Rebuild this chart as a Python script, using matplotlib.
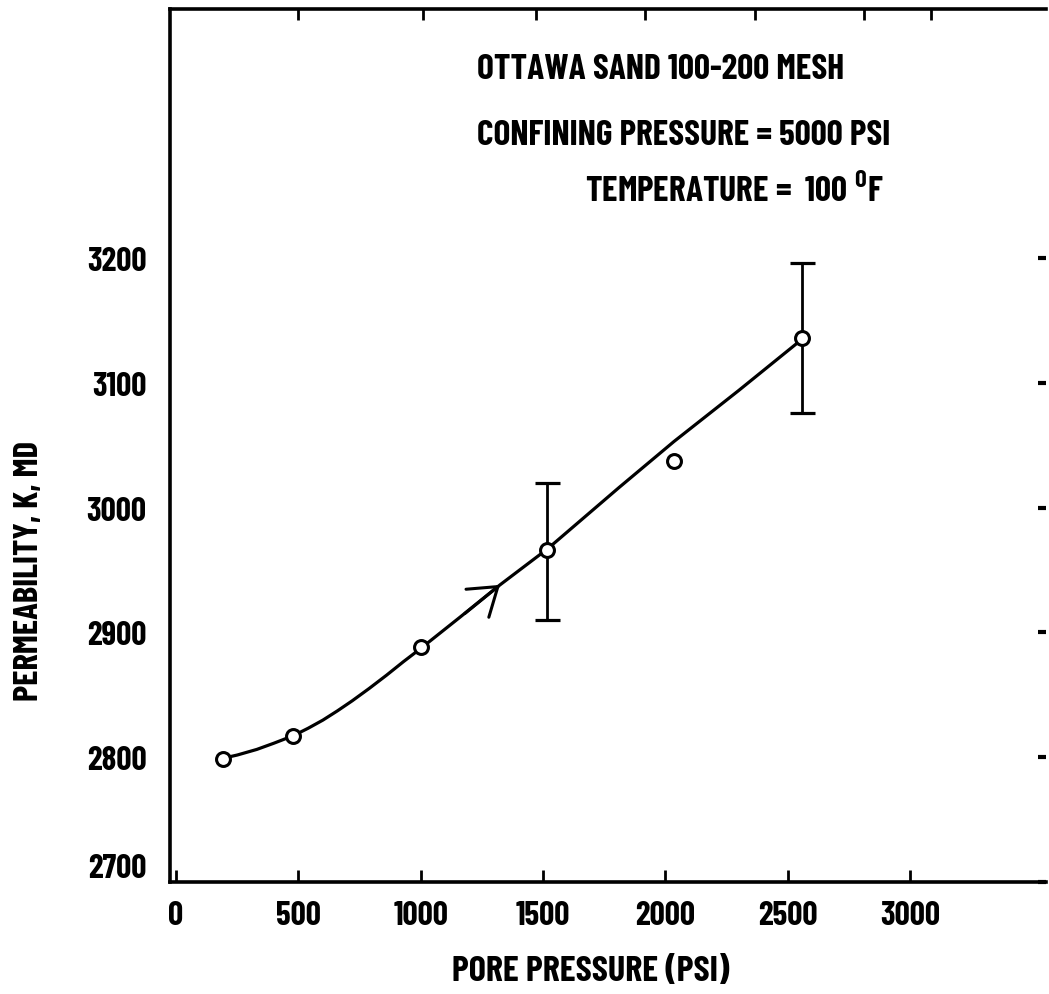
import matplotlib

matplotlib.use("Agg")

import matplotlib.pyplot as plt
from matplotlib.transforms import ScaledTranslation

# measured points (pore pressure, permeability)
pore_psi = [190, 480, 1000, 1518, 2035, 2558]
perm_md = [2798, 2817, 2888, 2966, 3037, 3136]

# error bars at two points
err_x = [1518, 2558]
err_y = [2966, 3136]
err_lo = [56, 60]
err_hi = [54, 60]

# hand-drawn smooth curve
curve_x = [172, 250, 330, 400, 479, 540, 600, 660, 720, 790, 860, 930, 1000,
           1160, 1324, 1519, 1810, 2035, 2300, 2558]
curve_y = [2798, 2801.5, 2806, 2811, 2817, 2823, 2829.5, 2837, 2845, 2855, 2865.5, 2876.5, 2887,
           2912, 2938, 2967, 3016, 3053, 3094, 3135]

# arrow drawn on the curve
arrow_from = (1180, 2915)
arrow_to = (1324, 2938)

x_ticks = [0, 500, 1000, 1500, 2000, 2500, 3000]
y_ticks = [2700, 2800, 2900, 3000, 3100, 3200]
top_ticks = [500, 1010, 1470, 1915, 2365, 2810, 3085]

notes = [
    ("OTTAWA SAND 100-200 MESH", 1229, 3345),
    ("CONFINING PRESSURE = 5000 PSI", 1229, 3292),
    (r"TEMPERATURE =  100 $^{\mathrm{O}}$F", 1671, 3246),
]

# condensed bold face like the typed labels; DejaVu condensed as fallback
plt.rcParams["font.family"] = ["Barlow Condensed", "DejaVu Sans"]
plt.rcParams["font.stretch"] = "condensed"
plt.rcParams["font.weight"] = "bold"
plt.rcParams["mathtext.fontset"] = "custom"
plt.rcParams["mathtext.rm"] = "Barlow Condensed:bold"

fig = plt.figure(figsize=(10.49, 9.95), dpi=100)
ax = fig.add_axes([0.162, 0.113, 0.835, 0.877])

ax.plot(curve_x, curve_y, color="black", lw=2.3, zorder=2)
ax.errorbar(err_x, err_y, yerr=[err_lo, err_hi], fmt="none", ecolor="black",
            elinewidth=2.0, capsize=9, capthick=2.3, zorder=1)
ax.plot(pore_psi, perm_md, "o", ms=10, mfc="white", mec="black", mew=2.2, zorder=3)
ax.annotate("", xy=arrow_to, xytext=arrow_from,
            arrowprops=dict(arrowstyle="->,head_length=1.9,head_width=1.3",
                            color="black", lw=2.2, shrinkA=0, shrinkB=0))

for text, x, y in notes:
    ax.text(x, y, text, fontsize=25.5, fontweight="bold", ha="left", va="baseline")

ax.set_xlim(-25, 3555)
ax.set_ylim(2700, 3400)
ax.set_xticks(x_ticks)
ax.set_yticks(y_ticks)
ax.tick_params(axis="both", direction="in", labelsize=24, pad=13)
ax.tick_params(axis="x", length=9, width=2)
ax.tick_params(axis="y", length=0, pad=17)

# top and right tick marks (no right spine in the original)
top = ax.secondary_xaxis("top")
top.set_xticks(top_ticks)
top.tick_params(direction="in", length=8, width=2, labeltop=False)
top.spines["top"].set_visible(False)
right = ax.secondary_yaxis("right")
right.set_yticks(y_ticks)
right.tick_params(direction="in", length=6, width=3, labelright=False)
right.spines["right"].set_visible(False)

for side in ["left", "bottom", "top"]:
    ax.spines[side].set_linewidth(2.6)
ax.spines["right"].set_visible(False)

# the 2700 label sits a bit above the spine in the original
lab = ax.get_yticklabels()[0]
lab.set_transform(lab.get_transform() + ScaledTranslation(0, 17 / 100, fig.dpi_scale_trans))

ax.set_xlabel("PORE PRESSURE (PSI)", fontsize=26, fontweight="bold")
ax.xaxis.set_label_coords(0.48, -0.084)
ax.set_ylabel("PERMEABILITY, K, MD", fontsize=25, fontweight="bold", va="center")
ax.yaxis.set_label_coords(-0.161, 0.357)

fig.savefig("out.png", dpi=100)
